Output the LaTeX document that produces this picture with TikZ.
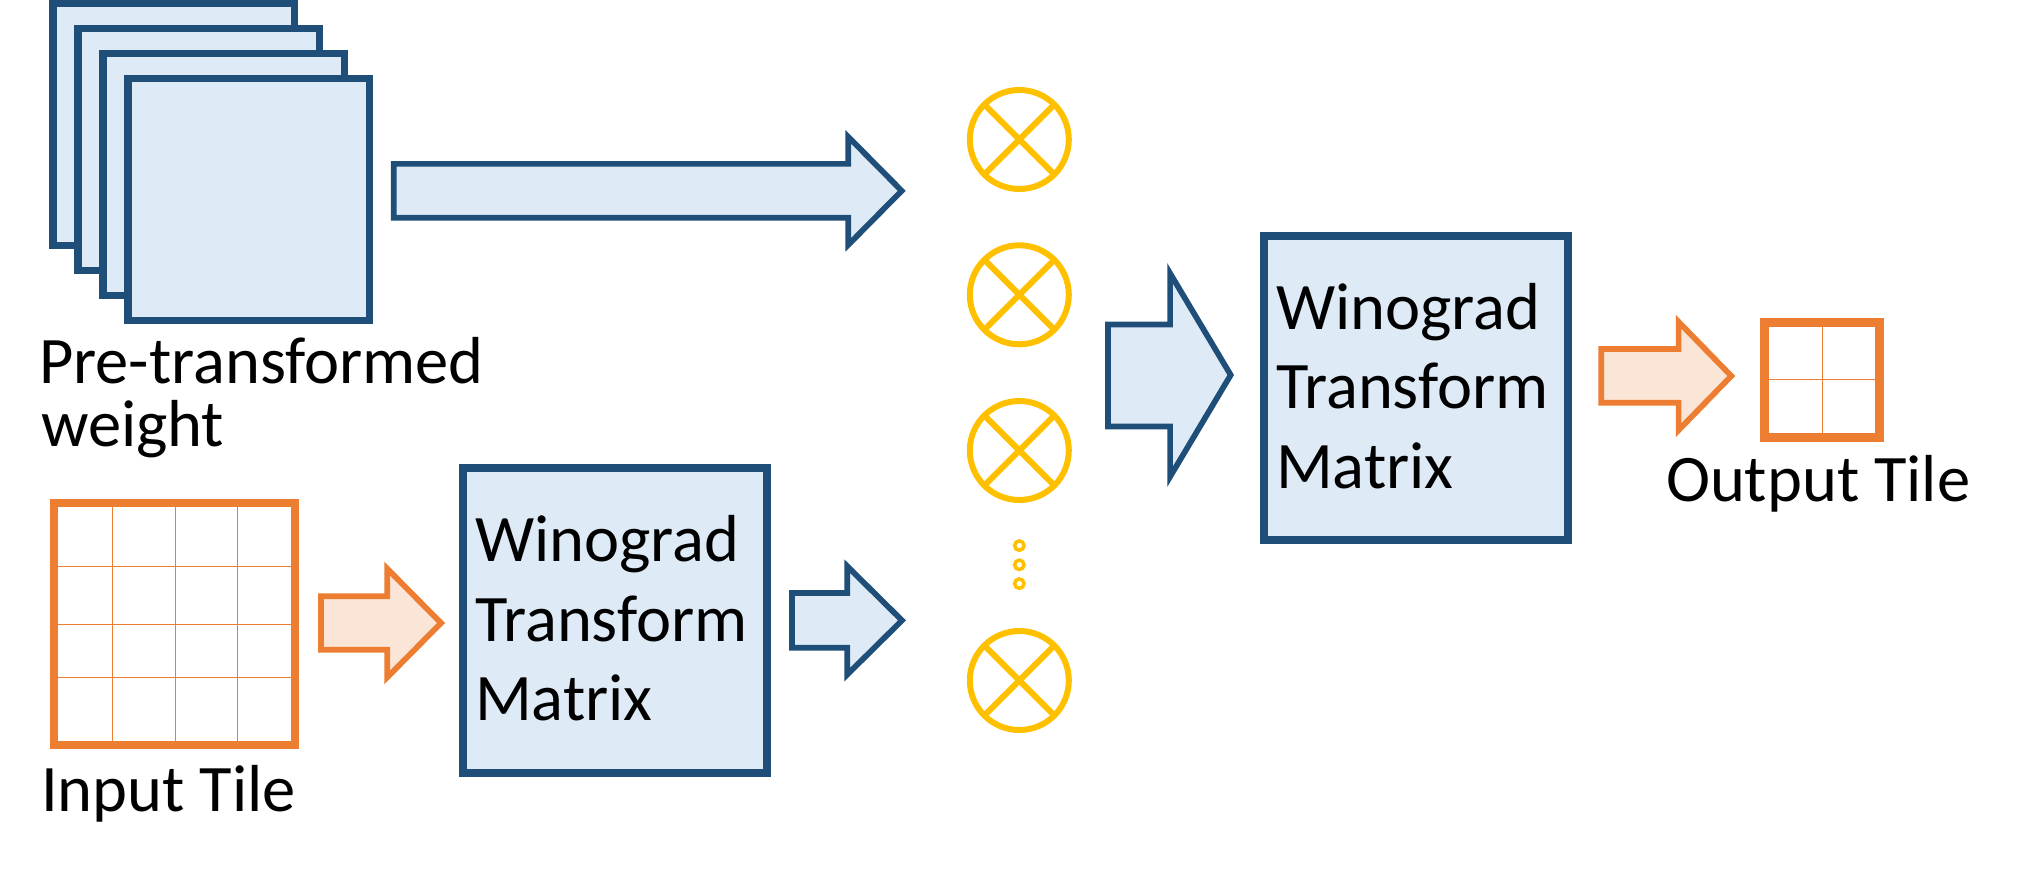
\documentclass[tikz,border=0pt]{standalone}
\usepackage{fontspec}
\setmainfont{Carlito}
\definecolor{bdark}{HTML}{1F4E79}
\definecolor{bfill}{HTML}{DEEBF7}
\definecolor{oline}{HTML}{ED7D31}
\definecolor{ofill}{HTML}{FBE5D6}
\definecolor{ymul}{HTML}{FFC000}
\tikzset{
  wsq/.style={draw=bdark, fill=bfill, line width=7.5pt, minimum width=241.5pt, minimum height=241.5pt, inner sep=0pt, outer sep=0pt},
  wbox/.style={draw=bdark, fill=bfill, line width=8pt, minimum width=304pt, minimum height=304pt, inner sep=0pt, outer sep=0pt},
  barrow/.style={draw=bdark, fill=bfill, line width=5.7pt, line join=miter, miter limit=20},
  oarrow/.style={draw=oline, fill=ofill, line width=5.7pt, line join=miter, miter limit=20},
  tilebox/.style={draw=oline, fill=white, inner sep=0pt, outer sep=0pt},
  gridln/.style={draw=oline, line width=1.5pt},
  mult/.style={circle, draw=ymul, line width=6pt, minimum size=99pt, inner sep=0pt, outer sep=0pt},
  crossln/.style={draw=ymul, line width=6pt},
  mdot/.style={circle, draw=ymul, line width=3.5pt, minimum size=9.4pt, inner sep=0pt, outer sep=0pt},
  lbl/.style={anchor=base west, inner sep=0pt, outer sep=0pt, text=black, font=\fontsize{66.5}{80}\selectfont}
}
\begin{document}
\begin{tikzpicture}[x=1pt,y=-1pt]
\useasboundingbox (0,0) rectangle (2025,869);
% stacked pre-transformed weights
\node[wsq] (w1) at (173.5,124.5) {};
\node[wsq] (w2) at (198.5,149.5) {};
\node[wsq] (w3) at (223.5,174.5) {};
\node[wsq] (w4) at (248.5,199.5) {};
\node[lbl] (lpre) at (39,383.3) {Pre-transformed};
\node[lbl] (lweight) at (41,446.7) {weight};
% top block arrow
\draw[barrow] (393.8,163.9) -- (848.3,163.9) -- (848.3,136.9) -- (901.7,190.8) -- (848.3,244.8) -- (848.3,217.8) -- (393.8,217.8) -- cycle;
% input tile
\node[tilebox, line width=8pt, minimum width=241pt, minimum height=241.7pt] (intile) at (174.5,623.85) {};
\foreach \gx in {112.3,175.3,237.3} \draw[gridln] (\gx,0 |- intile.north) -- (\gx,0 |- intile.south);
\foreach \gy in {566.3,624.3,677.3} \draw[gridln] (intile.west |- 0,\gy) -- (intile.east |- 0,\gy);
\node[tilebox, draw=oline, fill=none, line width=8pt, minimum width=241pt, minimum height=241.7pt] at (intile.center) {};
\node[lbl] (lin) at (41,811) {Input Tile};
% orange arrow into lower box
\draw[oarrow] (320.9,596.2) -- (387.2,596.2) -- (387.2,568.6) -- (441,623) -- (387.2,677.4) -- (387.2,649.8) -- (320.9,649.8) -- cycle;
% lower Winograd box
\node[wbox, minimum height=304.7pt] (box1) at (615,620.35) {};
\node[lbl] (b1a) at (475,561) {Winograd};
\node[lbl] (b1b) at (475,641) {Transform};
\node[lbl] (b1c) at (475,720.3) {Matrix};
% lower blue arrow
\draw[barrow] (791.9,592.9) -- (847.2,592.9) -- (847.2,566.2) -- (902,620.4) -- (847.2,674.6) -- (847.2,647.8) -- (791.9,647.8) -- cycle;
% multipliers
\foreach \i/\cy in {1/139.5,2/294.8,3/450.5,4/680.5}{
  \node[mult] (m\i) at (1019.3,\cy) {};
  \draw[crossln] (m\i.north east) -- (m\i.south west) (m\i.north west) -- (m\i.south east);
}
\node[mdot] (d1) at (1019.3,545.6) {};
\node[mdot] (d2) at (1019.3,564.8) {};
\node[mdot] (d3) at (1019.3,583.6) {};
% middle blue arrow
\draw[barrow] (1107.9,324.5) -- (1170.1,324.5) -- (1170.1,273.4) -- (1230.7,375) -- (1170.1,476.6) -- (1170.1,426.5) -- (1107.9,426.5) -- cycle;
% upper Winograd box
\node[wbox, minimum height=303.4pt] (box2) at (1416,388) {};
\node[lbl] (b2a) at (1276,329) {Winograd};
\node[lbl] (b2b) at (1276,408.3) {Transform};
\node[lbl] (b2c) at (1276,488.3) {Matrix};
% right orange arrow
\draw[oarrow] (1601.2,348.9) -- (1678.6,348.9) -- (1678.6,321.9) -- (1731.3,376) -- (1678.6,430.1) -- (1678.6,402.8) -- (1601.2,402.8) -- cycle;
% output tile
\node[tilebox, line width=9pt, minimum width=115pt, minimum height=115pt] (outtile) at (1822,379.7) {};
\draw[gridln] (1822.7,0 |- outtile.north) -- (1822.7,0 |- outtile.south);
\draw[gridln] (outtile.west |- 0,379.3) -- (outtile.east |- 0,379.3);
\node[tilebox, fill=none, line width=9pt, minimum width=115pt, minimum height=115pt] at (outtile.center) {};
\node[lbl] (lout) at (1666,501.7) {Output Tile};
\end{tikzpicture}
\end{document}
